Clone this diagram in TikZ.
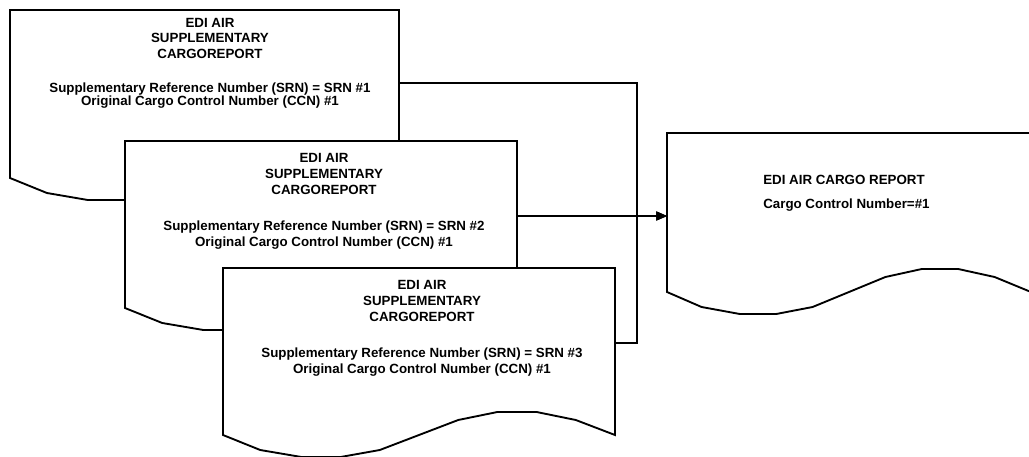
\documentclass[tikz,border=0pt]{standalone}
\usepackage{fontspec}
\setmainfont{Liberation Sans}
\usetikzlibrary{arrows.meta}
% #1 left, #2 top, #3 width, #4 y of the bottom corners
\newcommand\docshape[4]{%
  \draw[docline] (#1,#2) -- ({#1+#3},#2) -- ({#1+#3},#4)
    -- ({#1+0.9*#3},{#4-15}) -- ({#1+0.8*#3},{#4-23}) -- ({#1+0.7*#3},{#4-23})
    -- ({#1+0.6*#3},{#4-15}) -- ({#1+0.4*#3},{#4+15}) -- ({#1+0.3*#3},{#4+22})
    -- ({#1+0.2*#3},{#4+22}) -- ({#1+0.095*#3},{#4+15}) -- (#1,#4) -- cycle;}
\begin{document}
\begin{tikzpicture}[x=0.75pt,y=-0.75pt,
  docline/.style={draw=black,fill=white,line width=1.4pt,line join=miter},
  conn/.style={line width=1.4pt,-{Triangle[length=8pt,width=6.5pt]}},
  txt/.style={font=\fontsize{10}{12}\selectfont\bfseries,align=center,inner sep=0pt,anchor=north},
  txtone/.style={font=\fontsize{10}{11.6}\selectfont\bfseries,align=center,inner sep=0pt,anchor=north}]
\useasboundingbox (0,0) rectangle (1029,457);

% documents
\docshape{10}{10}{389}{178}
\node[txtone] (t1) at (210,18) {EDI AIR\\SUPPLEMENTARY\\CARGOREPORT\\[13.9pt]Supplementary Reference Number (SRN) = SRN \#1\\[-1.8pt]Original Cargo Control Number (CCN) \#1};

\docshape{125}{141}{392}{308}
\node[txt] (t2) at (324,153) {EDI AIR\\SUPPLEMENTARY\\CARGOREPORT\\[15pt]Supplementary Reference Number (SRN) = SRN \#2\\Original Cargo Control Number (CCN) \#1};

\docshape{223}{268}{392}{435}
\node[txt] (t3) at (422,280) {EDI AIR\\SUPPLEMENTARY\\CARGOREPORT\\[15pt]Supplementary Reference Number (SRN) = SRN \#3\\Original Cargo Control Number (CCN) \#1};

\docshape{667}{133}{364}{292}
\node[txt,align=left,anchor=north west] (t4) at (763,175) {EDI AIR CARGO REPORT\\[6pt]Cargo Control Number=\#1};

% connection points
\coordinate (d1out) at (399,83);
\coordinate (d2out) at (517,216);
\coordinate (d3out) at (615,343);
\coordinate (d4in) at (667,216);
\coordinate (jn) at (637,216);

\draw[conn] (d1out) -| (jn) -- (d4in);
\draw[conn] (d3out) -| (jn) -- (d4in);
\draw[conn] (d2out) -- (d4in);
\end{tikzpicture}
\end{document}
